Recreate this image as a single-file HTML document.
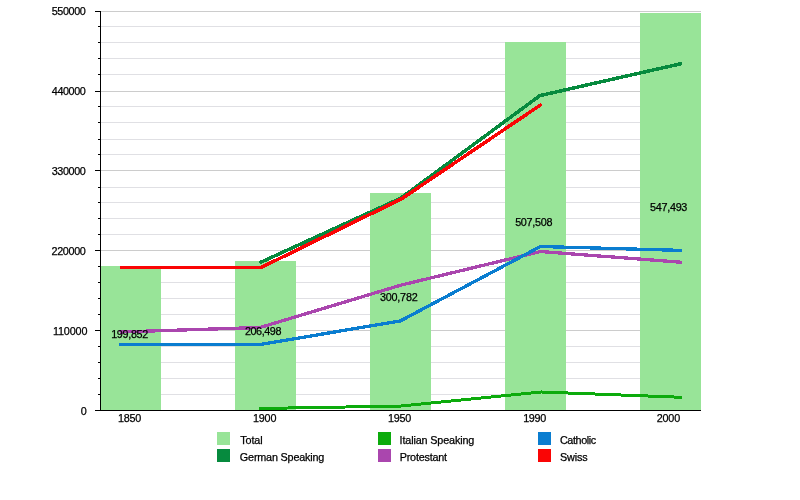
<!DOCTYPE html>
<html lang="en"><head><meta charset="utf-8"><title>Population chart</title>
<style>
html,body{margin:0;padding:0;background:#fff;}
body{width:800px;height:500px;overflow:hidden;}
svg{display:block;will-change:transform;}
text{font-family:"Liberation Sans",sans-serif;fill:#000;font-size:10.8px;stroke:#000;stroke-width:0.25px;}
.ln{fill:none;stroke-width:3.3;stroke-linejoin:miter;stroke-linecap:butt;}
</style></head><body>
<svg width="800" height="500" viewBox="0 0 800 500">
<rect width="800" height="500" fill="#fff"/>

<g shape-rendering="crispEdges">
<rect x="101" y="11" width="600" height="1" fill="#cccccc"/>
<rect x="101" y="26" width="600" height="1" fill="#e0e0e4"/>
<rect x="101" y="42" width="600" height="1" fill="#e0e0e4"/>
<rect x="101" y="58" width="600" height="1" fill="#e0e0e4"/>
<rect x="101" y="74" width="600" height="1" fill="#e0e0e4"/>
<rect x="101" y="91" width="600" height="1" fill="#cccccc"/>
<rect x="101" y="106" width="600" height="1" fill="#e0e0e4"/>
<rect x="101" y="122" width="600" height="1" fill="#e0e0e4"/>
<rect x="101" y="139" width="600" height="1" fill="#e0e0e4"/>
<rect x="101" y="154" width="600" height="1" fill="#e0e0e4"/>
<rect x="101" y="170" width="600" height="1" fill="#cccccc"/>
<rect x="101" y="187" width="600" height="1" fill="#e0e0e4"/>
<rect x="101" y="202" width="600" height="1" fill="#e0e0e4"/>
<rect x="101" y="218" width="600" height="1" fill="#e0e0e4"/>
<rect x="101" y="234" width="600" height="1" fill="#e0e0e4"/>
<rect x="101" y="250" width="600" height="1" fill="#cccccc"/>
<rect x="101" y="266" width="600" height="1" fill="#e0e0e4"/>
<rect x="101" y="282" width="600" height="1" fill="#e0e0e4"/>
<rect x="101" y="298" width="600" height="1" fill="#e0e0e4"/>
<rect x="101" y="314" width="600" height="1" fill="#e0e0e4"/>
<rect x="101" y="330" width="600" height="1" fill="#cccccc"/>
<rect x="101" y="346" width="600" height="1" fill="#e0e0e4"/>
<rect x="101" y="362" width="600" height="1" fill="#e0e0e4"/>
<rect x="101" y="378" width="600" height="1" fill="#e0e0e4"/>
<rect x="101" y="394" width="600" height="1" fill="#e0e0e4"/>
</g>
<g shape-rendering="crispEdges" fill="#98e498">
<rect x="101" y="266" width="60" height="144"/>
<rect x="235" y="261" width="61" height="149"/>
<rect x="370" y="193" width="61" height="217"/>
<rect x="505" y="42" width="61" height="368"/>
<rect x="640" y="13" width="61" height="397"/>
</g>
<polyline class="ln" shape-rendering="crispEdges" stroke="#068a3e" style="stroke-width:3.5" points="259.6,262.8 400.7,198.2 539.9,95.6 682,63.5"/>
<polyline class="ln" shape-rendering="crispEdges" stroke="#0cab0c" style="stroke-width:3" points="259.3,408.5 400.7,406.05 541.4,392 682,397.3"/>
<polyline class="ln" shape-rendering="crispEdges" stroke="#aa46ae" points="119.5,332 260.1,327.5 400.7,285.2 540.5,251.5 682,262.3"/>
<polyline class="ln" shape-rendering="crispEdges" stroke="#0a7dd0" points="119.5,344.5 260.5,344.4 400.2,321.0 540.5,246.5 682,250.4"/>
<polyline class="ln" shape-rendering="crispEdges" stroke="#fa0505" style="stroke-width:3.5" points="119.5,267.4 261.3,267.4 401.5,198.9 541.6,104.2"/>
<g shape-rendering="crispEdges" fill="#000">
<rect x="100" y="11" width="1" height="400"/>
<rect x="100" y="410" width="601" height="1"/>
<rect x="95" y="11" width="5" height="1"/>
<rect x="98" y="26" width="2" height="1"/>
<rect x="98" y="42" width="2" height="1"/>
<rect x="98" y="58" width="2" height="1"/>
<rect x="98" y="74" width="2" height="1"/>
<rect x="95" y="91" width="5" height="1"/>
<rect x="98" y="106" width="2" height="1"/>
<rect x="98" y="122" width="2" height="1"/>
<rect x="98" y="139" width="2" height="1"/>
<rect x="98" y="154" width="2" height="1"/>
<rect x="95" y="170" width="5" height="1"/>
<rect x="98" y="187" width="2" height="1"/>
<rect x="98" y="202" width="2" height="1"/>
<rect x="98" y="218" width="2" height="1"/>
<rect x="98" y="234" width="2" height="1"/>
<rect x="95" y="250" width="5" height="1"/>
<rect x="98" y="266" width="2" height="1"/>
<rect x="98" y="282" width="2" height="1"/>
<rect x="98" y="298" width="2" height="1"/>
<rect x="98" y="314" width="2" height="1"/>
<rect x="95" y="330" width="5" height="1"/>
<rect x="98" y="346" width="2" height="1"/>
<rect x="98" y="362" width="2" height="1"/>
<rect x="98" y="378" width="2" height="1"/>
<rect x="98" y="394" width="2" height="1"/>
<rect x="95" y="410" width="5" height="1"/>
</g>
<g>
<text x="51.67" y="14.6" letter-spacing="-0.379">550000</text>
<text x="51.86" y="94.6" letter-spacing="-0.418">440000</text>
<text x="51.69" y="174.6" letter-spacing="-0.384">330000</text>
<text x="51.56" y="254.6" letter-spacing="-0.358">220000</text>
<text x="52.93" y="334.6" letter-spacing="-0.132">110000</text>
<text x="80.78" y="414.6" letter-spacing="0">0</text>
<text x="117.93" y="421.6" letter-spacing="-0.263">1850</text>
<text x="252.93" y="421.6" letter-spacing="-0.179">1900</text>
<text x="387.93" y="421.6" letter-spacing="-0.263">1950</text>
<text x="523.18" y="421.6" letter-spacing="-0.329">1990</text>
<text x="656.71" y="421.6" letter-spacing="-0.19">2000</text>
<text x="111.18" y="337.8" letter-spacing="-0.314">199,852</text>
<text x="244.96" y="334.8" letter-spacing="-0.423">206,498</text>
<text x="379.89" y="300.5" letter-spacing="-0.199">300,782</text>
<text x="515.17" y="225.6" letter-spacing="-0.291">507,508</text>
<text x="650.07" y="210.8" letter-spacing="-0.291">547,493</text>
<rect x="217" y="432" width="13" height="13" fill="#98e498" shape-rendering="crispEdges"/>
<text x="240.16" y="444" letter-spacing="-0.065">Total</text>
<rect x="217" y="449" width="13" height="13" fill="#068a3e" shape-rendering="crispEdges"/>
<text x="239.86" y="461" letter-spacing="-0.187">German Speaking</text>
<rect x="378" y="432" width="13" height="13" fill="#0cab0c" shape-rendering="crispEdges"/>
<text x="399.61" y="444" letter-spacing="-0.145">Italian Speaking</text>
<rect x="378" y="449" width="13" height="13" fill="#aa46ae" shape-rendering="crispEdges"/>
<text x="399.71" y="461" letter-spacing="-0.207">Protestant</text>
<rect x="538" y="432" width="13" height="13" fill="#0a7dd0" shape-rendering="crispEdges"/>
<text x="559.96" y="444" letter-spacing="-0.386">Catholic</text>
<rect x="538" y="449" width="13" height="13" fill="#fa0505" shape-rendering="crispEdges"/>
<text x="560.01" y="461.1" letter-spacing="-0.156">Swiss</text>
</g>
</svg></body></html>
